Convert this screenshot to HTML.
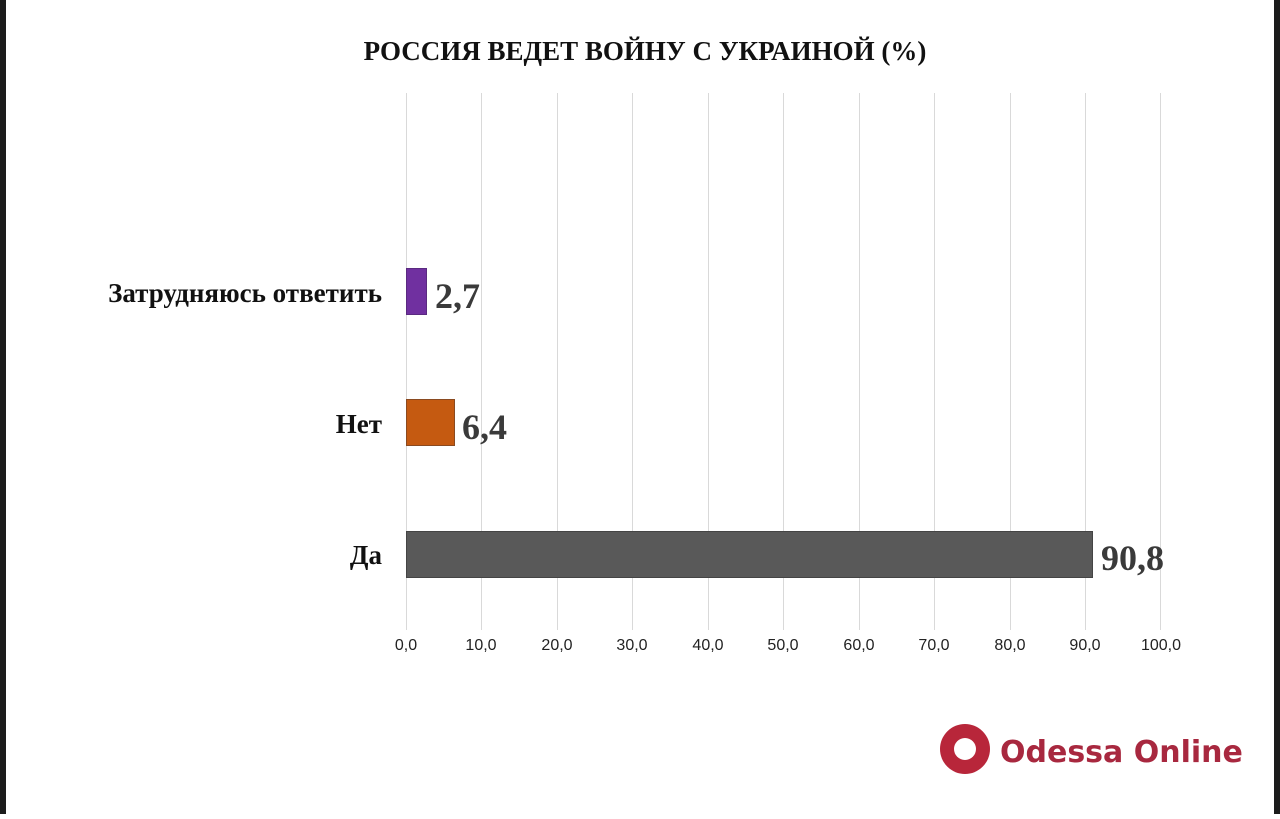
<!DOCTYPE html>
<html><head><meta charset="utf-8"><style>
body{margin:0;width:1280px;height:814px;background:#fff;overflow:hidden}
</style></head><body>
<svg width="1280" height="814" xmlns="http://www.w3.org/2000/svg">
<rect x="0" y="0" width="6" height="814" fill="#1c1c1c"/>
<rect x="1274" y="0" width="6" height="814" fill="#1c1c1c"/>
<text x="645" y="60" text-anchor="middle" font-family="Liberation Serif, serif" font-weight="bold" font-size="27" fill="#111">РОССИЯ ВЕДЕТ ВОЙНУ С УКРАИНОЙ (%)</text>
<g stroke="#d9d9d9" stroke-width="1">
<line x1="406.5" y1="93" x2="406.5" y2="630"/><line x1="481.5" y1="93" x2="481.5" y2="630"/>
<line x1="557.5" y1="93" x2="557.5" y2="630"/><line x1="632.5" y1="93" x2="632.5" y2="630"/>
<line x1="708.5" y1="93" x2="708.5" y2="630"/><line x1="783.5" y1="93" x2="783.5" y2="630"/>
<line x1="859.5" y1="93" x2="859.5" y2="630"/><line x1="934.5" y1="93" x2="934.5" y2="630"/>
<line x1="1010.5" y1="93" x2="1010.5" y2="630"/><line x1="1085.5" y1="93" x2="1085.5" y2="630"/>
<line x1="1160.5" y1="93" x2="1160.5" y2="630"/>
</g>
<rect x="406.5" y="268.5" width="20" height="46" fill="#7030a0" stroke="#5a2a80"/>
<rect x="406.5" y="399.5" width="48" height="46" fill="#c55a11" stroke="#8a4a20"/>
<rect x="406.5" y="531.5" width="686" height="46" fill="#595959" stroke="#444"/>
<g font-family="Liberation Serif, serif" font-weight="bold" fill="#3a3a3a" font-size="36">
<text x="435" y="308">2,7</text><text x="462" y="439">6,4</text><text x="1101" y="570">90,8</text>
</g>
<g font-family="Liberation Serif, serif" font-weight="bold" fill="#111" font-size="27" text-anchor="end">
<text x="382" y="302">Затрудняюсь ответить</text><text x="382" y="433">Нет</text><text x="382" y="564">Да</text>
</g>
<g font-family="Liberation Sans, sans-serif" font-size="16" fill="#222" text-anchor="middle">
<text x="406" y="650">0,0</text><text x="481" y="650">10,0</text><text x="557" y="650">20,0</text>
<text x="632" y="650">30,0</text><text x="708" y="650">40,0</text><text x="783" y="650">50,0</text>
<text x="859" y="650">60,0</text><text x="934" y="650">70,0</text><text x="1010" y="650">80,0</text>
<text x="1085" y="650">90,0</text><text x="1161" y="650">100,0</text>
</g>
<circle cx="965" cy="749" r="25" fill="#b8263a"/>
<circle cx="965" cy="749" r="11" fill="#fff"/>
<text x="1000" y="762" font-family="DejaVu Sans, sans-serif" font-weight="bold" font-size="30" fill="#a8283f">Odessa Online</text>
</svg>
</body></html>
